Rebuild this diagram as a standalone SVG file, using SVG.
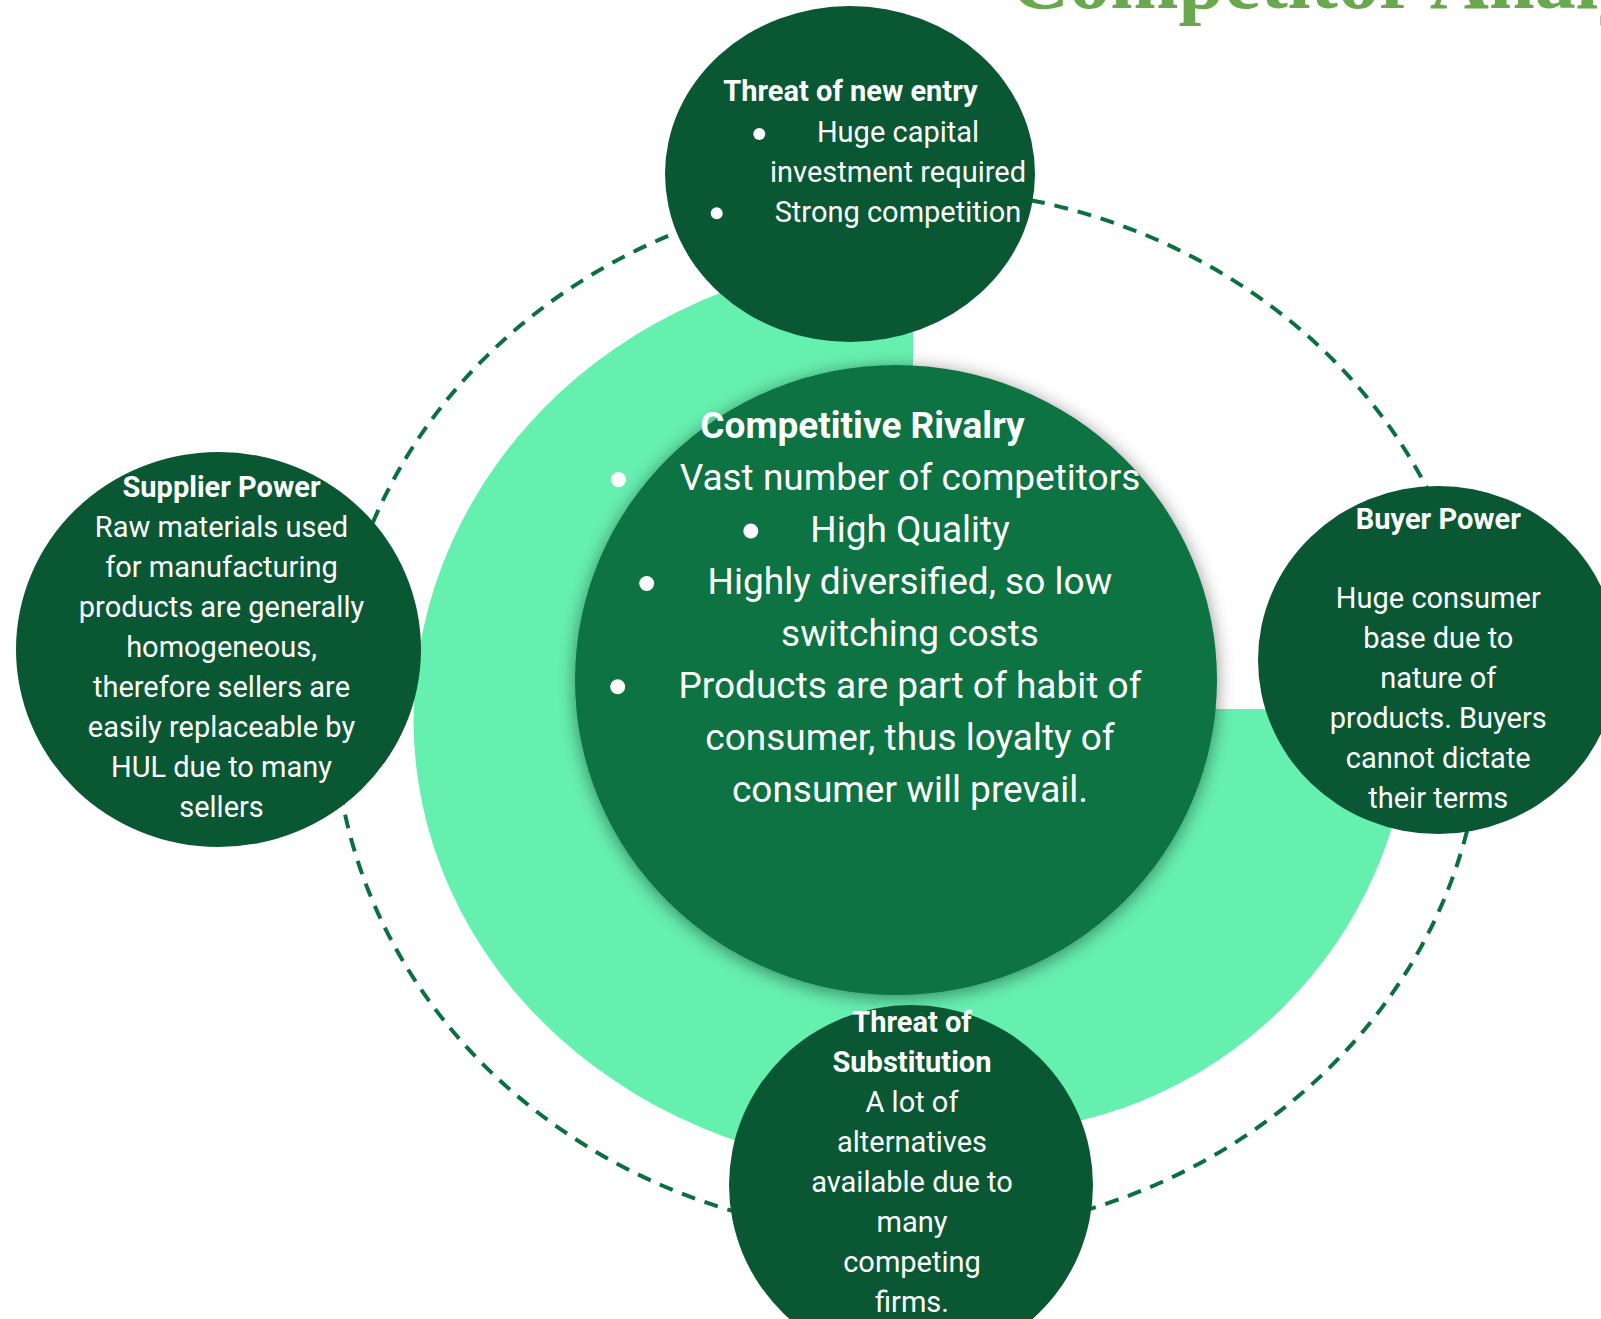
<svg xmlns="http://www.w3.org/2000/svg" width="1601" height="1319" viewBox="0 0 1601 1319">
  <defs>
    <filter id="softShadow" x="-20%" y="-20%" width="140%" height="140%">
      <feDropShadow dx="0" dy="3" stdDeviation="9" flood-color="#000" flood-opacity="0.45"/>
    </filter>
    <style>
      .node { fill: #0a5734; }
      .core { fill: #0d7343; }
      .halo { fill: #66f0b0; }
      .orbit { fill: none; stroke: #0b7040; stroke-width: 4; stroke-dasharray: 14 10; }
      .t { font-family: Roboto, "Noto Sans", "Liberation Sans", sans-serif; fill: #ffffff; text-anchor: middle; }
      .n { font-size: 29px; }
      .c { font-size: 37px; }
      .b { font-weight: 700; }
      .dot { fill: #ffffff; }
      .title { font-family: "Liberation Serif", "Times New Roman", serif; font-weight: 700; font-size: 82px; fill: #6aa84f; }
    </style>
  </defs>

  <rect width="1601" height="1319" fill="#ffffff"/>

  <!-- page heading, mostly above the visible area -->
  <text class="title" x="1010" y="8">Competitor Analysis</text>

  <!-- light green three-quarter backdrop -->
  <path id="backdrop" class="halo" d="M 913 257 A 499.5 463 0 0 0 413.5 720 A 499.5 450 0 0 0 913 1170 L 978 1133 A 433 433 0 0 0 1411 709 L 913 709 Z"/>

  <!-- connectors: dashed orbit linking the five forces -->
  <g id="connectors">
    <ellipse class="orbit" cx="908" cy="712" rx="574" ry="524"/>
  </g>

  <!-- central force -->
  <g id="competitive-rivalry">
    <ellipse class="core" cx="896" cy="680" rx="321" ry="315" filter="url(#softShadow)"/>
    <text class="t c b" x="862.5" y="437.6">Competitive Rivalry</text>
    <circle class="dot" cx="618.5" cy="479.6" r="7.5"/>
    <text class="t c" x="910" y="489.6">Vast number of competitors</text>
    <circle class="dot" cx="750.8" cy="531" r="7.5"/>
    <text class="t c" x="910" y="541.6">High Quality</text>
    <circle class="dot" cx="646.7" cy="583.5" r="7.5"/>
    <text class="t c" x="910" y="593.7">Highly diversified, so low</text>
    <text class="t c" x="910" y="645.7">switching costs</text>
    <circle class="dot" cx="617.7" cy="686.8" r="7.5"/>
    <text class="t c" x="910" y="697.8">Products are part of habit of</text>
    <text class="t c" x="910" y="749.8">consumer, thus loyalty of</text>
    <text class="t c" x="910" y="801.8">consumer will prevail.</text>
  </g>

  <!-- threat of new entry -->
  <g id="new-entry">
    <ellipse class="node" cx="850" cy="174" rx="185" ry="168"/>
    <text class="t n b" x="850.5" y="100.7">Threat of new entry</text>
    <circle class="dot" cx="759.3" cy="134" r="6"/>
    <text class="t n" x="898" y="141.7">Huge capital</text>
    <text class="t n" x="898" y="181.7">investment required</text>
    <circle class="dot" cx="716.7" cy="213.3" r="6"/>
    <text class="t n" x="898" y="221.7">Strong competition</text>
  </g>

  <!-- supplier power -->
  <g id="supplier-power">
    <ellipse class="node" cx="218.5" cy="649.5" rx="202.5" ry="197.5"/>
    <text class="t n b" x="221.5" y="496.7">Supplier Power</text>
    <text class="t n" x="221.5" y="536.7">Raw materials used</text>
    <text class="t n" x="221.5" y="576.7">for manufacturing</text>
    <text class="t n" x="221.5" y="616.7">products are generally</text>
    <text class="t n" x="221.5" y="656.7">homogeneous,</text>
    <text class="t n" x="221.5" y="696.7">therefore sellers are</text>
    <text class="t n" x="221.5" y="736.7">easily replaceable by</text>
    <text class="t n" x="221.5" y="776.7">HUL due to many</text>
    <text class="t n" x="221.5" y="816.7">sellers</text>
  </g>

  <!-- buyer power -->
  <g id="buyer-power">
    <ellipse class="node" cx="1438" cy="660" rx="180" ry="174"/>
    <text class="t n b" x="1438.3" y="529">Buyer Power</text>
    <text class="t n" x="1438.3" y="608.3">Huge consumer</text>
    <text class="t n" x="1438.3" y="648.3">base due to</text>
    <text class="t n" x="1438.3" y="688.3">nature of</text>
    <text class="t n" x="1438.3" y="728.3">products. Buyers</text>
    <text class="t n" x="1438.3" y="768.3">cannot dictate</text>
    <text class="t n" x="1438.3" y="808.3">their terms</text>
  </g>

  <!-- threat of substitution -->
  <g id="substitution">
    <ellipse class="node" cx="911" cy="1185" rx="182" ry="180"/>
    <text class="t n b" x="912" y="1031.7">Threat of</text>
    <text class="t n b" x="912" y="1071.7">Substitution</text>
    <text class="t n" x="912" y="1111.7">A lot of</text>
    <text class="t n" x="912" y="1151.7">alternatives</text>
    <text class="t n" x="912" y="1191.7">available due to</text>
    <text class="t n" x="912" y="1231.7">many</text>
    <text class="t n" x="912" y="1271.7">competing</text>
    <text class="t n" x="912" y="1311.7">firms.</text>
  </g>
</svg>
